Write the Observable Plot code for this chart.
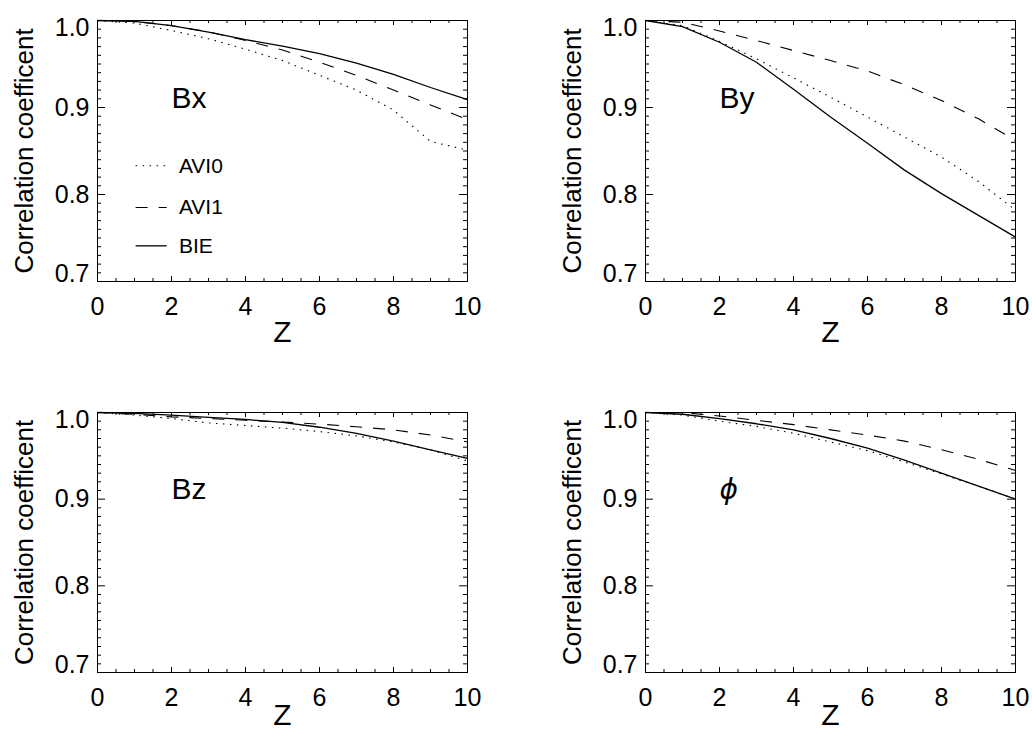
<!DOCTYPE html>
<html>
<head>
<meta charset="utf-8">
<script src="https://cdn.jsdelivr.net/npm/d3@7"></script>
<script src="https://cdn.jsdelivr.net/npm/@observablehq/plot@0.6"></script>
<style>
  html, body { margin: 0; padding: 0; background: #fff; }
  #root { position: relative; width: 1032px; height: 733px; background: #fff; overflow: hidden; }
  .panel { position: absolute; }
</style>
</head>
<body>
<div id="root"></div>
<script>
// ---- Data ----
const zValues = [0, 1, 2, 3, 4, 5, 6, 7, 8, 9, 10];
const methods = ["AVI0", "AVI1", "BIE"];
const panelNames = ["Bx", "By", "Bz", "ϕ"];

const bxAVI0 = [1.000, 0.997, 0.9885, 0.979, 0.967, 0.954, 0.937, 0.920, 0.897, 0.861, 0.851];
const bxAVI1 = [1.000, 0.999, 0.994, 0.987, 0.977, 0.966, 0.952, 0.937, 0.920, 0.903, 0.886];
const bxBIE  = [1.000, 0.999, 0.994, 0.9866, 0.978, 0.9705, 0.962, 0.951, 0.938, 0.923, 0.909];

const byAVI0 = [1.000, 0.994, 0.976, 0.956, 0.934, 0.912, 0.889, 0.866, 0.843, 0.815, 0.782];
const byAVI1 = [1.000, 0.998, 0.988, 0.977, 0.9655, 0.954, 0.942, 0.926, 0.908, 0.887, 0.862];
const byBIE  = [1.000, 0.993, 0.975, 0.952, 0.921, 0.889, 0.859, 0.828, 0.801, 0.776, 0.751];

const bzAVI0 = [1.000, 0.997, 0.993, 0.988, 0.985, 0.982, 0.978, 0.973, 0.966, 0.957, 0.944];
const bzAVI1 = [1.000, 0.998, 0.995, 0.993, 0.991, 0.989, 0.9866, 0.9835, 0.980, 0.974, 0.966];
const bzBIE  = [1.000, 0.999, 0.997, 0.9943, 0.992, 0.9885, 0.983, 0.976, 0.967, 0.957, 0.947];

const phAVI0 = [1.000, 0.997, 0.990, 0.984, 0.976, 0.966, 0.956, 0.943, 0.929, 0.915, 0.900];
const phAVI1 = [1.000, 1.000, 0.996, 0.991, 0.986, 0.980, 0.974, 0.967, 0.957, 0.946, 0.933];
const phBIE  = [1.000, 0.998, 0.993, 0.987, 0.980, 0.970, 0.959, 0.945, 0.930, 0.915, 0.900];

const xTickLabels = [0, 2, 4, 6, 8, 10];
const yTickLabels = [0.7, 0.8, 0.9, 1.0];
const yTitle = "Correlation coefficent";
const xTitle = "Z";

// ---- Styling / layout ----
const FONT = "'Liberation Sans', Arial, Helvetica, sans-serif";
const dashes = { AVI0: "1.5,5.5", AVI1: "12,11", BIE: null };
const widths = { AVI0: 1.1, AVI1: 1.1, BIE: 1.3 };

const seriesByPanel = [
  [bxAVI0, bxAVI1, bxBIE],
  [byAVI0, byAVI1, byBIE],
  [bzAVI0, bzAVI1, bzBIE],
  [phAVI0, phAVI1, phBIE]
];

const layout = [
  { left: 0,   top: 0,   width: 516, height: 366, mL: 97,  mR: 49, mT: 20, mB: 85, zDy: 51 },
  { left: 516, top: 0,   width: 516, height: 366, mL: 129, mR: 17, mT: 20, mB: 85, zDy: 51 },
  { left: 0,   top: 366, width: 516, height: 367, mL: 97,  mR: 49, mT: 46, mB: 61, zDy: 43 },
  { left: 516, top: 366, width: 516, height: 367, mL: 129, mR: 17, mT: 46, mB: 61, zDy: 43 }
];

// annotation anchor (data coordinates) for the panel labels
const labelAt = { z: 2, c: 0.9 };
// legend (panel 1) rows in data coordinates
const legendRows = [
  { name: "AVI0", c: 0.833 },
  { name: "AVI1", c: 0.785 },
  { name: "BIE",  c: 0.741 }
];
const legendLine = { z1: 1.03, z2: 1.87, zText: 2.2 };

const xMajor = [0, 2, 4, 6, 8, 10];
const xMinor = d3.range(0, 10.001, 0.5).filter(v => Math.abs(v / 2 - Math.round(v / 2)) > 1e-6);
const yMajor = [0.7, 0.8, 0.9, 1.0];
const yMinor = d3.range(70, 101, 1).map(v => v / 100).filter(v => Math.abs(v * 10 - Math.round(v * 10)) > 1e-6);

const root = document.getElementById("root");

panelNames.forEach((name, p) => {
  const L = layout[p];
  const pw = L.width - L.mL - L.mR;
  const ph = L.height - L.mT - L.mB;

  const rows = [];
  methods.forEach((m, k) => {
    seriesByPanel[p][k].forEach((v, i) => rows.push({ method: m, z: zValues[i], c: v }));
  });

  const lineMarks = methods.map(m =>
    Plot.line(rows.filter(r => r.method === m), {
      x: "z", y: "c", stroke: "black",
      strokeWidth: widths[m],
      strokeDasharray: dashes[m],
      strokeLinecap: "butt"
    })
  );

  const tickMarks = [
    Plot.tickX(xMajor, { x: d => d, insetTop: ph - 5, stroke: "black" }),
    Plot.tickX(xMinor, { x: d => d, insetTop: ph - 3, stroke: "black" }),
    Plot.tickX(xMajor, { x: d => d, insetBottom: ph - 5, stroke: "black" }),
    Plot.tickX(xMinor, { x: d => d, insetBottom: ph - 3, stroke: "black" }),
    Plot.tickY(yMajor, { y: d => d, insetRight: pw - 8, stroke: "black" }),
    Plot.tickY(yMinor, { y: d => d, insetRight: pw - 4, stroke: "black" }),
    Plot.tickY(yMajor, { y: d => d, insetLeft: pw - 8, stroke: "black" }),
    Plot.tickY(yMinor, { y: d => d, insetLeft: pw - 4, stroke: "black" })
  ];

  const fmt = d3.format(".1f");
  const tickLabelStyle = { fontSize: 25, fontFamily: FONT, fill: "black" };
  const labelMarks = [
    Plot.text(xTickLabels, { x: d => d, frameAnchor: "bottom", dy: 25, textAnchor: "middle", lineAnchor: "middle", text: d => String(d), ...tickLabelStyle }),
    Plot.text(yTickLabels.filter(v => v > 0.75 && v < 0.95), { y: d => d, frameAnchor: "left", dx: -8, textAnchor: "end", lineAnchor: "middle", text: fmt, ...tickLabelStyle }),
    Plot.text(yTickLabels.filter(v => v > 0.95), { y: d => d, frameAnchor: "left", dx: -8, dy: 7, textAnchor: "end", lineAnchor: "middle", text: fmt, ...tickLabelStyle }),
    Plot.text(yTickLabels.filter(v => v < 0.75), { y: d => d, frameAnchor: "left", dx: -8, dy: -8, textAnchor: "end", lineAnchor: "middle", text: fmt, ...tickLabelStyle }),
    Plot.text([yTitle], { frameAnchor: "left", dx: -73, rotate: -90, textAnchor: "middle", lineAnchor: "middle", text: d => d, fontSize: 26, fontFamily: FONT, fill: "black" }),
    Plot.text([xTitle], { frameAnchor: "bottom", dy: L.zDy, textAnchor: "middle", lineAnchor: "middle", text: d => d, fontSize: 30, fontFamily: FONT, fill: "black" }),
    Plot.text([name], {
      x: () => labelAt.z, y: () => labelAt.c, text: d => d,
      textAnchor: "start", lineAnchor: "bottom",
      fontSize: name === "ϕ" ? 28 : 30,
      fontStyle: name === "ϕ" ? "italic" : "normal",
      fontFamily: name === "ϕ" ? "'DejaVu Sans', " + FONT : FONT,
      fill: "black"
    })
  ];

  const legendMarks = p === 0 ? [
    ...legendRows.map(r => Plot.link([r], {
      x1: () => legendLine.z1, x2: () => legendLine.z2, y1: d => d.c, y2: d => d.c,
      stroke: "black", strokeWidth: widths[r.name], strokeDasharray: dashes[r.name]
    })),
    Plot.text(legendRows, {
      x: () => legendLine.zText, y: "c", text: "name",
      textAnchor: "start", lineAnchor: "middle", fontSize: 21, fontFamily: FONT, fill: "black"
    })
  ] : [];

  const chart = Plot.plot({
    width: L.width,
    height: L.height,
    marginLeft: L.mL,
    marginRight: L.mR,
    marginTop: L.mT,
    marginBottom: L.mB,
    x: { domain: [0, 10], axis: null },
    y: { domain: [0.7, 1.0], axis: null },
    style: { background: "white", overflow: "visible", fontFamily: FONT },
    marks: [
      ...lineMarks,
      ...legendMarks,
      ...tickMarks,
      Plot.frame({ stroke: "black", strokeWidth: 1 }),
      ...labelMarks
    ]
  });

  const wrap = document.createElement("div");
  wrap.className = "panel";
  wrap.style.left = L.left + "px";
  wrap.style.top = L.top + "px";
  wrap.appendChild(chart);
  root.appendChild(wrap);
});
</script>
</body>
</html>
